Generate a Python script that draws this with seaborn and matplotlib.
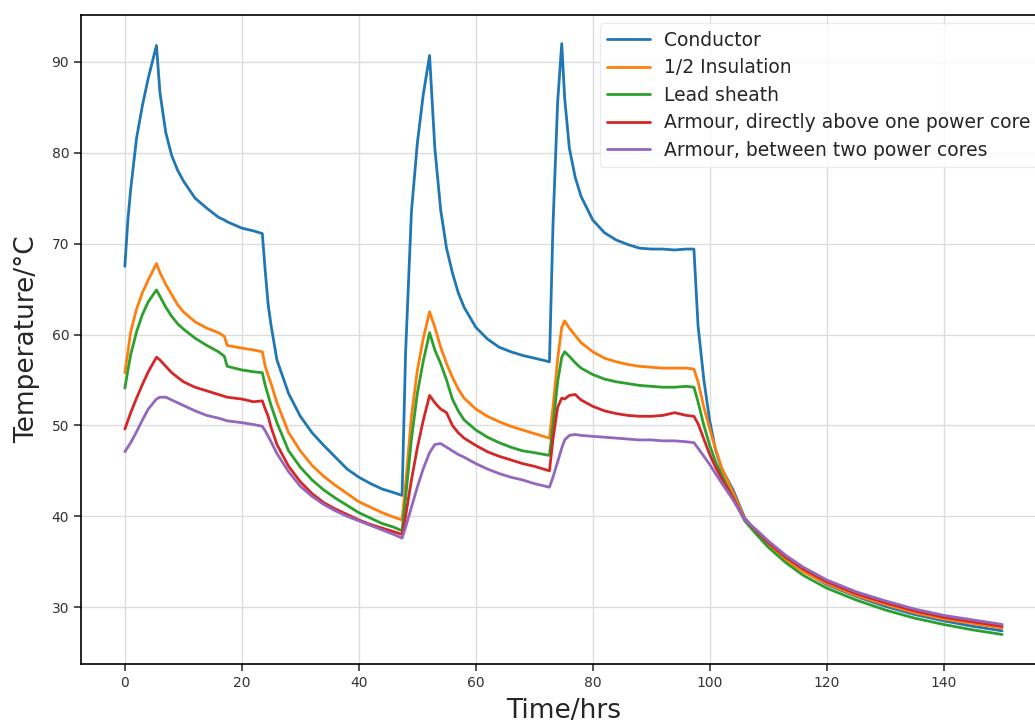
import numpy as np
import pandas as pd
import seaborn as sns
import matplotlib
matplotlib.use("Agg")
import matplotlib.pyplot as plt

hours = [0, 0.5, 1, 2, 3, 4, 5.4, 6, 7, 8, 9, 10, 12, 14, 16, 17, 17.5, 20, 22, 23.5,
         24, 24.5, 25, 26, 28, 30, 32, 34, 36, 38, 40, 42, 44, 46, 47.4,
         48, 49, 50, 51, 52.1, 53, 54, 55, 56, 57, 58, 60, 62, 64, 66, 68, 70, 72.6,
         73.2, 74, 74.7, 75.2, 76, 77, 78, 80, 82, 84, 86, 88, 90, 92, 94, 96, 97.3,
         98, 99, 100, 101, 102, 104, 106, 108, 110, 113, 116, 120, 125, 130, 135, 140, 145, 150]

conductor = [67.5, 72.5, 76.0, 81.6, 85.2, 88.2, 91.8, 86.6, 82.2, 79.7, 78.1, 76.9, 75.0, 73.9, 72.9, 72.6, 72.4, 71.7, 71.4, 71.1,
             67.0, 63.3, 61.0, 57.2, 53.5, 51.0, 49.2, 47.8, 46.5, 45.2, 44.3, 43.6, 43.0, 42.6, 42.3,
             58.0, 73.5, 81.0, 86.3, 90.7, 80.5, 73.7, 69.5, 66.8, 64.6, 63.0, 60.8, 59.5, 58.6, 58.1, 57.7, 57.4, 57.0,
             72.0, 85.6, 92.0, 86.0, 80.5, 77.3, 75.2, 72.6, 71.2, 70.4, 69.9, 69.5, 69.4, 69.4, 69.3, 69.4, 69.4,
             61.0, 55.0, 50.5, 47.3, 45.3, 42.9, 39.8, 38.3, 37.0, 35.4, 34.0, 32.5, 31.2, 30.1, 29.2, 28.5, 27.9, 27.4]

insulation = [55.8, 58.0, 60.3, 62.8, 64.6, 66.0, 67.8, 66.8, 65.5, 64.4, 63.3, 62.5, 61.4, 60.7, 60.2, 59.8, 58.8, 58.5, 58.3, 58.1,
              56.5, 55.5, 54.6, 52.5, 49.2, 47.2, 45.6, 44.4, 43.4, 42.5, 41.6, 41.0, 40.4, 39.9, 39.6,
              43.5, 51.0, 56.0, 59.5, 62.5, 60.8, 58.6, 56.8, 55.3, 54.0, 53.0, 51.8, 51.0, 50.4, 49.9, 49.5, 49.1, 48.6,
              52.0, 57.3, 60.8, 61.5, 60.7, 59.9, 59.1, 58.1, 57.4, 57.0, 56.7, 56.5, 56.4, 56.3, 56.3, 56.3, 56.2,
              54.8, 52.0, 49.6, 47.4, 45.4, 42.6, 39.7, 38.3, 36.9, 35.2, 33.9, 32.6, 31.3, 30.3, 29.4, 28.7, 28.2, 27.7]

lead_sheath = [54.1, 56.0, 57.8, 60.3, 62.2, 63.6, 64.9, 64.2, 63.0, 62.0, 61.2, 60.6, 59.6, 58.8, 58.1, 57.6, 56.5, 56.1, 55.9, 55.8,
               54.4, 53.3, 52.2, 50.3, 47.2, 45.4, 44.0, 42.9, 42.0, 41.2, 40.4, 39.8, 39.2, 38.8, 38.4,
               42.0, 48.5, 53.5, 57.0, 60.2, 58.3, 56.8, 55.0, 52.9, 51.6, 50.6, 49.5, 48.7, 48.1, 47.6, 47.2, 47.0, 46.7,
               50.0, 54.8, 57.5, 58.1, 57.6, 56.9, 56.3, 55.6, 55.1, 54.8, 54.6, 54.4, 54.3, 54.2, 54.2, 54.3, 54.2,
               52.6, 50.0, 47.8, 46.0, 44.6, 42.0, 39.5, 38.0, 36.6, 34.9, 33.5, 32.1, 30.8, 29.7, 28.8, 28.1, 27.5, 27.0]

armour_above = [49.6, 50.5, 51.4, 53.0, 54.5, 55.9, 57.5, 57.2, 56.5, 55.8, 55.3, 54.8, 54.2, 53.8, 53.4, 53.2, 53.1, 52.9, 52.6, 52.7,
                51.8, 51.0, 49.8, 47.9, 45.5, 43.8, 42.5, 41.5, 40.8, 40.2, 39.6, 39.1, 38.7, 38.3, 38.0,
                40.0, 44.0, 47.5, 50.5, 53.3, 52.5, 51.8, 51.4, 50.0, 49.2, 48.6, 47.8, 47.1, 46.6, 46.2, 45.8, 45.5, 45.0,
                48.5, 52.0, 53.0, 52.9, 53.3, 53.4, 52.8, 52.1, 51.6, 51.3, 51.1, 51.0, 51.0, 51.1, 51.4, 51.1, 51.0,
                50.2, 48.5, 46.8, 45.4, 44.2, 42.0, 39.6, 38.4, 37.1, 35.5, 34.2, 32.8, 31.5, 30.5, 29.6, 28.9, 28.4, 27.9]

armour_between = [47.1, 47.6, 48.1, 49.3, 50.6, 51.8, 52.9, 53.1, 53.1, 52.8, 52.5, 52.2, 51.6, 51.1, 50.8, 50.6, 50.5, 50.3, 50.1, 49.9,
                  49.4, 48.8, 48.2, 46.9, 44.9, 43.3, 42.2, 41.3, 40.6, 40.0, 39.5, 39.0, 38.5, 38.0, 37.6,
                  38.8, 41.0, 43.2, 45.2, 47.0, 47.9, 48.0, 47.6, 47.2, 46.8, 46.5, 45.8, 45.2, 44.7, 44.3, 44.0, 43.6, 43.2,
                  44.3, 46.0, 47.5, 48.4, 48.9, 49.0, 48.9, 48.8, 48.7, 48.6, 48.5, 48.4, 48.4, 48.3, 48.3, 48.2, 48.1,
                  47.5, 46.6, 45.7, 44.7, 43.7, 41.8, 39.6, 38.5, 37.3, 35.7, 34.4, 33.0, 31.7, 30.7, 29.8, 29.1, 28.6, 28.1]

series_names = ["Conductor", "1/2 Insulation", "Lead sheath",
                "Armour, directly above one power core", "Armour, between two power cores"]
series_values = [conductor, insulation, lead_sheath, armour_above, armour_between]

frames = []
for name, vals in zip(series_names, series_values):
    assert len(vals) == len(hours), (name, len(vals), len(hours))
    frames.append(pd.DataFrame({"Time": hours, "Temp": vals, "Location": name}))
df = pd.concat(frames, ignore_index=True)

sns.set_theme(style="ticks", rc={"axes.grid": True, "grid.color": "#dcdcdc",
                                  "grid.linewidth": 1.0, "axes.edgecolor": "black",
                                  "axes.linewidth": 1.2})
plt.rcParams['font.family'] = ['DejaVu Sans']

fig = plt.figure(figsize=(10.35, 7.24), dpi=100)
ax = fig.add_axes([81 / 1035, 60 / 724, (1046 - 81) / 1035, (664 - 15) / 724])

palette = ["#1f77b4", "#ff7f0e", "#2ca02c", "#d62728", "#9467bd"]
sns.lineplot(data=df, x="Time", y="Temp", hue="Location", hue_order=series_names,
             palette=palette, estimator=None, sort=False, linewidth=2.0, ax=ax)

ax.set_xlim(-7.5, 157.5)
ax.set_ylim(23.75, 95.15)
ax.set_xticks(range(0, 141, 20))
ax.set_yticks(range(30, 91, 10))
ax.tick_params(axis="both", labelsize=10, colors="#333333", length=5, width=1.2, direction="out")
ax.set_xlabel("Time/hrs", fontsize=19, labelpad=6)
ax.set_ylabel("Temperature/°C", fontsize=19, labelpad=8)

handles, labels = ax.get_legend_handles_labels()
ax.legend(handles, labels, loc="upper right", fontsize=13.5, frameon=True,
          framealpha=0.8, edgecolor="#e6e6e6", fancybox=True, borderaxespad=0.45,
          handlelength=2.3, handletextpad=0.7, labelspacing=0.45)

fig.savefig("out.png", dpi=100)
